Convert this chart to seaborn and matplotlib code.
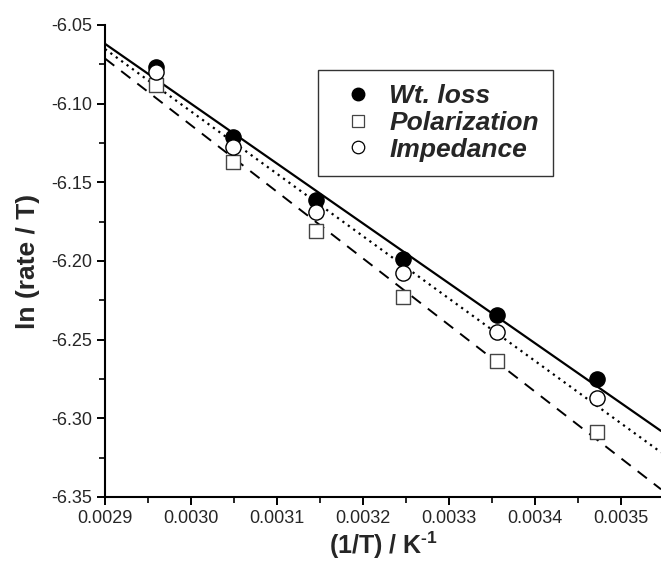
import numpy as np
import pandas as pd
import matplotlib.pyplot as plt
from matplotlib.ticker import MultipleLocator, FormatStrFormatter
from matplotlib.lines import Line2D
import seaborn as sns

# Data
inv_T = [0.002959, 0.003049, 0.003145, 0.003247, 0.003356, 0.003472]
wt_loss = [-6.0765, -6.1212, -6.1615, -6.1986, -6.2343, -6.2750]
polarization = [-6.0882, -6.1371, -6.1812, -6.2231, -6.2634, -6.3086]
impedance = [-6.0800, -6.1275, -6.1689, -6.2075, -6.2454, -6.2868]

series_names = ["Wt. loss", "Polarization", "Impedance"]

df = pd.DataFrame({"inv_T": inv_T, "Wt. loss": wt_loss,
                   "Polarization": polarization, "Impedance": impedance})

sns.set_theme(style="ticks")
plt.rcParams["font.family"] = ["Liberation Sans", "DejaVu Sans"]
plt.rcParams["mathtext.fontset"] = "custom"
plt.rcParams["mathtext.bf"] = "Liberation Sans:bold"
plt.rcParams["mathtext.rm"] = "Liberation Sans"

fig = plt.figure(figsize=(6.61, 5.67), dpi=100)
ax = fig.add_axes([0.1589, 0.1235, 0.8411, 0.8325])
ax.set_xlim(0.0029, 0.003547)
ax.set_ylim(-6.35, -6.05)

styles = {
    "Wt. loss": dict(marker="o", s=120, fc="black", ec="black", ls="-", lw=1.6),
    "Polarization": dict(marker="s", s=90, fc="white", ec="#444444", ls=(0, (6, 4.5)), lw=1.4),
    "Impedance": dict(marker="o", s=120, fc="white", ec="black", ls=(0, (1, 2)), lw=1.6),
}

for name in series_names:
    st = styles[name]
    sns.regplot(data=df, x="inv_T", y=name, ax=ax, ci=None, truncate=False,
                color="black", marker=st["marker"],
                scatter_kws=dict(s=st["s"], facecolors=st["fc"], edgecolors=st["ec"],
                                 linewidths=1.0, alpha=1, zorder=3),
                line_kws=dict(linestyle=st["ls"], linewidth=st["lw"], zorder=2))

ax.set_xlim(0.0029, 0.003547)
ax.set_ylim(-6.35, -6.05)

ax.xaxis.set_major_locator(MultipleLocator(0.0001))
ax.xaxis.set_minor_locator(MultipleLocator(0.00005))
ax.yaxis.set_major_locator(MultipleLocator(0.05))
ax.yaxis.set_minor_locator(MultipleLocator(0.025))
ax.xaxis.set_major_formatter(FormatStrFormatter("%.4f"))
ax.yaxis.set_major_formatter(FormatStrFormatter("%.2f"))
ax.tick_params(which="major", direction="out", length=6, width=1.4, labelsize=13, color="black")
ax.tick_params(which="minor", direction="out", length=4, width=1.2, color="black")

for side in ["top", "right"]:
    ax.spines[side].set_visible(False)
for side in ["left", "bottom"]:
    ax.spines[side].set_linewidth(1.5)
    ax.spines[side].set_color("black")

ax.set_xlabel("(1/T) / K$^{\\mathbf{\u20101}}$", fontsize=18, fontweight="bold", labelpad=2)
ax.set_ylabel("ln (rate / T)", fontsize=19, fontweight="bold", labelpad=8)

handles = [
    Line2D([], [], ls="none", marker="o", markersize=9, mfc="black", mec="black"),
    Line2D([], [], ls="none", marker="s", markersize=8, mfc="white", mec="#444444", mew=0.9),
    Line2D([], [], ls="none", marker="o", markersize=9, mfc="white", mec="black", mew=0.9),
]
leg = ax.legend(handles, series_names, loc="upper left", bbox_to_anchor=(0.481, 0.877),
                bbox_transform=fig.transFigure, frameon=True, fancybox=False,
                prop=dict(size=19, weight="bold", style="italic"),
                handletextpad=0.25, borderpad=0.55, labelspacing=0.1, handlelength=1.9,
                borderaxespad=0)
leg.get_frame().set_edgecolor("black")
leg.get_frame().set_linewidth(1.0)

fig.savefig("out.png", dpi=100)
